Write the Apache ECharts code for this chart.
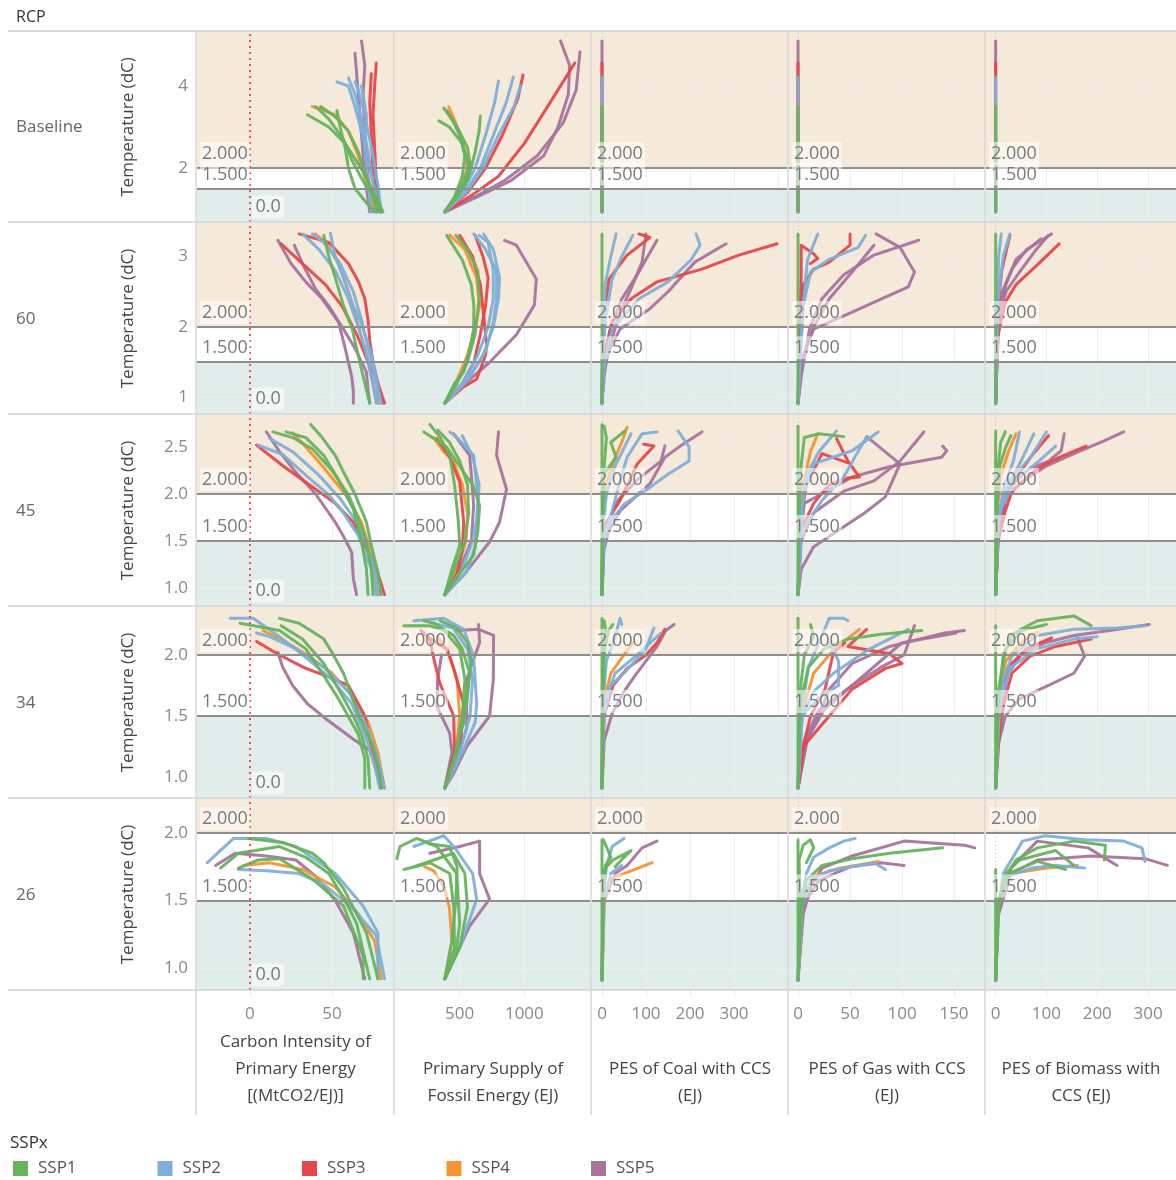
<!DOCTYPE html>
<html>
<head>
<meta charset="utf-8">
<script src="https://cdn.jsdelivr.net/npm/echarts@6/dist/echarts.min.js"></script>
<style>
  html, body { margin: 0; padding: 0; background: #ffffff; }
  #chart { width: 1176px; height: 1180px; }
</style>
</head>
<body>
<div id="chart"></div>
<script>
// ---- Facets ---------------------------------------------------------------
const rcpLabels = ['Baseline', '60', '45', '34', '26'];
const measureTitles = [
  'Carbon Intensity of\nPrimary Energy\n[(MtCO2/EJ)]',
  'Primary Supply of\nFossil Energy (EJ)',
  'PES of Coal with CCS\n(EJ)',
  'PES of Gas with CCS\n(EJ)',
  'PES of Biomass with\nCCS (EJ)'
];
const sspNames = ['SSP1', 'SSP2', 'SSP3', 'SSP4', 'SSP5'];

// ---- Tick labels -----------------------------------------------------------
const yTickValues = [[2, 4], [1, 2, 3], [1.0, 1.5, 2.0, 2.5], [1.0, 1.5, 2.0], [1.0, 1.5, 2.0]];
const yTickDecimals = [0, 0, 1, 1, 1];
const xTickValues = [[0, 50], [500, 1000], [0, 100, 200, 300], [0, 50, 100, 150], [0, 100, 200, 300]];
const xGridValues = [[50], [500, 1000], [100, 200, 300, 400], [50, 100, 150], [100, 200, 300]];

// ---- Reference values --------------------------------------------------------
const thresholdTemps = [2.0, 1.5];   // warming thresholds (dC)
const zeroIntensity = 0;             // zero carbon intensity

// ---- Trajectories: [SSP, [[measure, temperature], ...]] -----------------------
// RCP Baseline
const ciBaseline = [
  ['SSP1', [[80,0.93],[76,1.3],[72,1.7],[66,2.1],[58,2.6],[48,3.0],[35,3.3]]],
  ['SSP1', [[78,0.93],[74,1.4],[70,1.9],[66,2.4],[60,2.9],[52,3.25],[43,3.5]]],
  ['SSP1', [[76,0.93],[70,1.2],[64,1.5],[60,2.0],[58,2.5],[55,3.0],[53,3.4]]],
  ['SSP1', [[81,0.93],[77,1.3],[70,1.6],[62,2.2],[57,2.7],[48,3.2],[40,3.5]]],
  ['SSP4', [[77,0.93],[72,1.5],[66,2.3],[60,2.9],[52,3.3],[38,3.5]]],
  ['SSP2', [[79,0.93],[76,1.5],[72,2.2],[68,2.9],[64,3.5],[60,4.0],[53,4.1]]],
  ['SSP2', [[77,0.93],[75,1.6],[72,2.4],[68,3.2],[64,3.8],[60,4.2]]],
  ['SSP2', [[80,0.93],[78,1.6],[74,2.5],[70,3.3],[66,3.9],[64,4.1]]],
  ['SSP2', [[74,0.93],[72,1.6],[70,2.5],[71,3.3],[68,4.0]]],
  ['SSP3', [[79,0.93],[77,1.6],[76,2.5],[75,3.3],[76,4.0],[77,4.56]]],
  ['SSP3', [[77,0.93],[75,1.8],[74,2.8],[73,3.6],[74,4.3]]],
  ['SSP5', [[75,0.93],[72,1.8],[70,2.8],[69,3.8],[70,4.5],[68,5.1]]],
  ['SSP5', [[73,0.93],[70,1.8],[68,2.8],[66,3.8],[64,4.8]]]
];
const pfBaseline = [
  ['SSP1', [[385,0.93],[480,1.3],[560,1.7],[585,2.0],[560,2.5],[480,3.0],[377,3.46]]],
  ['SSP1', [[385,0.93],[470,1.3],[540,1.7],[570,2.1],[520,2.6],[420,3.0],[340,3.15]]],
  ['SSP1', [[385,0.93],[500,1.4],[580,1.9],[620,2.4],[650,2.9],[660,3.27]]],
  ['SSP1', [[385,0.93],[460,1.3],[520,1.8],[540,2.3],[500,2.8],[440,3.2],[400,3.4]]],
  ['SSP4', [[385,0.93],[470,1.3],[530,1.7],[560,2.0],[530,2.5],[470,3.1],[415,3.49]]],
  ['SSP2', [[385,0.93],[520,1.4],[620,2.0],[700,2.8],[770,3.6],[800,4.12]]],
  ['SSP2', [[385,0.93],[540,1.4],[660,2.0],[760,2.8],[860,3.6],[915,4.22]]],
  ['SSP2', [[385,0.93],[550,1.4],[680,2.0],[800,2.8],[920,3.5],[970,4.0]]],
  ['SSP3', [[385,0.93],[560,1.4],[700,2.0],[830,2.8],[950,3.7],[990,4.27]]],
  ['SSP3', [[385,0.93],[600,1.35],[800,1.8],[1000,2.6],[1200,3.6],[1390,4.56]]],
  ['SSP5', [[385,0.93],[620,1.3],[850,1.7],[1100,2.3],[1300,3.1],[1400,3.9],[1430,4.83]]],
  ['SSP5', [[385,0.93],[640,1.3],[900,1.7],[1150,2.3],[1260,3.0],[1340,3.8],[1350,4.5],[1280,5.1]]]
];
const coalBaseline = [
  ['SSP5', [[0,0.93],[0,3.0],[0,5.1]]],
  ['SSP3', [[0,0.93],[0,3.0],[0,4.56]]],
  ['SSP2', [[0,0.93],[0,3.0],[0,4.22]]],
  ['SSP4', [[0,0.93],[0,2.5],[0,3.49]]],
  ['SSP1', [[0,0.93],[0,2.5],[0,3.5]]]
];
const gasBaseline = [
  ['SSP5', [[0,0.93],[0,3.0],[0,5.1]]],
  ['SSP3', [[0,0.93],[0,3.0],[0,4.56]]],
  ['SSP2', [[0,0.93],[0,3.0],[0,4.22]]],
  ['SSP4', [[0,0.93],[0,2.5],[0,3.49]]],
  ['SSP1', [[0,0.93],[0,2.5],[0,3.5]]]
];
const bioBaseline = [
  ['SSP5', [[0,0.93],[0,3.0],[0,5.1]]],
  ['SSP3', [[0,0.93],[0,3.0],[0,4.56]]],
  ['SSP2', [[0,0.93],[0,3.0],[0,4.22]]],
  ['SSP4', [[0,0.93],[0,2.5],[0,3.49]]],
  ['SSP1', [[0,0.93],[0,2.5],[0,3.5]]]
];

// RCP 6.0
const ci60 = [
  ['SSP3', [[82,0.92],[78,1.2],[72,1.5],[65,1.9],[56,2.3],[46,2.6],[32,2.9],[19,3.18]]],
  ['SSP3', [[81,0.92],[78,1.2],[75,1.5],[73,1.8],[72,2.1],[70,2.4],[66,2.65],[60,2.9],[48,3.2],[30,3.32]]],
  ['SSP5', [[63,0.92],[63,1.1],[62,1.3],[58,1.7],[54,2.07],[44,2.4],[34,2.64],[25,2.9],[17,3.23]]],
  ['SSP5', [[73,0.92],[72,1.1],[71,1.36],[64,1.7],[57,1.97],[48,2.3],[40,2.54],[33,2.85],[27,3.16]]],
  ['SSP2', [[77,0.92],[74,1.3],[70,1.7],[66,2.0],[60,2.4],[52,2.8],[42,3.1],[32,3.32]]],
  ['SSP2', [[79,0.92],[76,1.3],[72,1.7],[68,2.1],[63,2.5],[55,2.9],[45,3.2],[38,3.32]]],
  ['SSP2', [[80,0.92],[76,1.4],[73,1.7],[67,2.1],[63,2.3],[57,2.7],[52,3.0],[49,3.33]]],
  ['SSP1', [[73,0.92],[68,1.4],[66,1.6],[62,2.0],[57,2.3],[52,2.7],[48,3.0],[45,3.3]]],
  ['SSP4', [[78,0.92],[74,1.3],[70,1.7],[65,2.1],[60,2.5],[54,2.9],[46,3.2],[40,3.32]]]
];
const pf60 = [
  ['SSP1', [[385,0.92],[460,1.2],[530,1.36],[580,1.7],[608,1.97],[610,2.3],[590,2.6],[520,2.95],[400,3.3]]],
  ['SSP1', [[385,0.92],[480,1.2],[560,1.5],[620,1.9],[650,2.4],[640,2.8],[560,3.1],[470,3.3]]],
  ['SSP4', [[385,0.92],[480,1.25],[560,1.6],[620,2.0],[654,2.3],[630,2.7],[540,3.1],[425,3.3]]],
  ['SSP3', [[385,0.92],[530,1.15],[631,1.26],[700,1.6],[708,1.74],[685,2.17],[660,2.6],[600,3.0],[500,3.3]]],
  ['SSP3', [[385,0.92],[520,1.2],[610,1.5],[660,1.9],[700,2.3],[720,2.7],[680,3.0],[620,3.3]]],
  ['SSP2', [[385,0.92],[540,1.2],[650,1.5],[708,1.7],[760,2.07],[785,2.4],[785,2.8],[700,3.1],[608,3.32]]],
  ['SSP2', [[385,0.92],[560,1.25],[680,1.6],[760,2.0],[800,2.4],[808,2.7],[760,3.1],[685,3.32]]],
  ['SSP2', [[385,0.92],[520,1.2],[640,1.6],[720,2.0],[760,2.4],[760,2.8],[720,3.2],[650,3.3]]],
  ['SSP5', [[385,0.92],[531,1.18],[731,1.5],[938,1.89],[1077,2.31],[1092,2.68],[938,3.16],[846,3.23]]]
];
const coal60 = [
  ['SSP1', [[0,0.92],[0,1.5],[0,2.0],[0,2.6],[0,3.32]]],
  ['SSP2', [[0,0.92],[1,1.5],[5,2.0],[7,2.6],[20,3.0],[32,3.32]]],
  ['SSP2', [[0,0.92],[2,1.6],[8,2.1],[23,2.68],[45,3.0],[70,3.3]]],
  ['SSP2', [[0,0.92],[3,1.3],[7,1.5],[23,1.97],[84,2.4],[150,2.64],[202,2.95],[223,3.16],[214,3.32]]],
  ['SSP3', [[0,0.92],[1,1.6],[5,2.2],[16,2.68],[57,3.02],[109,3.27],[84,3.32]]],
  ['SSP3', [[0,0.92],[1,1.3],[4,1.6],[23,2.07],[66,2.4],[125,2.64],[227,2.82],[311,3.02],[398,3.18]]],
  ['SSP5', [[0,0.92],[3,1.3],[16,1.69],[41,2.21],[66,2.54],[91,2.92],[100,3.32]]],
  ['SSP5', [[0,0.92],[5,1.5],[20,2.0],[45,2.4],[80,2.74],[125,3.23]]],
  ['SSP5', [[0,0.92],[5,1.3],[11,1.6],[41,1.97],[109,2.26],[150,2.5],[211,2.92],[282,3.18]]]
];
const gas60 = [
  ['SSP1', [[0,0.92],[0,2.0],[0,3.32]]],
  ['SSP2', [[0,0.92],[2,1.6],[5,2.3],[9,2.95],[19,3.32]]],
  ['SSP2', [[0,0.92],[2,1.5],[5,2.3],[12,2.78],[30,2.96],[58,3.13],[65,3.3]]],
  ['SSP3', [[0,0.92],[1,1.6],[5,2.6],[15,2.82],[30,2.92],[50,3.16],[50,3.32]]],
  ['SSP3', [[0,0.92],[2,2.2],[3,2.7],[3,3.16],[15,3.04],[19,2.97],[12,2.9]]],
  ['SSP5', [[0,0.92],[2,1.3],[5,1.6],[15,1.97],[52,2.21],[106,2.57],[112,2.78],[98,3.13],[75,3.32]]],
  ['SSP5', [[0,0.92],[3,1.3],[11,1.97],[23,2.4],[44,2.74],[73,3.02],[116,3.23]]],
  ['SSP5', [[0,0.92],[4,1.5],[14,1.97],[30,2.4],[52,2.78],[73,3.16]]]
];
const bio60 = [
  ['SSP1', [[0,0.92],[0,2.0],[0,3.32]]],
  ['SSP2', [[0,0.92],[1,1.6],[3,2.4],[6,3.0],[11,3.32]]],
  ['SSP2', [[0,0.92],[2,1.6],[5,2.4],[15,3.0],[28,3.32]]],
  ['SSP3', [[0,0.92],[2,1.6],[5,2.3],[12,2.8],[28,3.3]]],
  ['SSP3', [[0,0.92],[2,1.4],[5,1.9],[19,2.35],[40,2.6],[82,2.88],[125,3.18]]],
  ['SSP5', [[0,0.92],[2,1.5],[6,2.1],[13,2.5],[32,2.82],[61,3.1],[110,3.32]]],
  ['SSP5', [[0,0.92],[3,1.6],[8,2.2],[20,2.6],[40,2.96],[89,3.25]]],
  ['SSP5', [[0,0.92],[3,1.6],[8,2.2],[20,2.5],[47,2.78],[80,3.1],[104,3.3]]]
];

// RCP 4.5
const ci45 = [
  ['SSP3', [[82,0.93],[79,1.1],[73,1.35],[63,1.7],[52,1.9],[36,2.1],[20,2.3],[4,2.52]]],
  ['SSP5', [[65,0.93],[63,1.1],[62,1.38],[57,1.55],[52,1.7],[40,2.0],[28,2.23],[18,2.45],[10,2.66]]],
  ['SSP2', [[77,0.93],[74,1.2],[66,1.56],[57,1.8],[48,1.99],[34,2.2],[20,2.42],[5,2.52]]],
  ['SSP2', [[79,0.93],[76,1.2],[70,1.5],[65,1.7],[55,1.95],[42,2.2],[26,2.45],[12,2.59]]],
  ['SSP1', [[80,0.93],[78,1.17],[74,1.45],[71,1.7],[64,2.0],[58,2.2],[52,2.41],[44,2.6],[37,2.74]]],
  ['SSP1', [[75,0.93],[74,1.2],[71,1.49],[66,1.75],[60,1.99],[50,2.25],[38,2.48],[26,2.6],[14,2.66]]],
  ['SSP1', [[72,0.93],[71,1.2],[68,1.5],[63,1.84],[54,2.15],[45,2.41],[34,2.6],[22,2.66]]],
  ['SSP4', [[78,0.93],[75,1.3],[68,1.7],[58,2.0],[44,2.3],[34,2.5],[26,2.65]]]
];
const pf45 = [
  ['SSP1', [[385,0.93],[440,1.2],[500,1.45],[490,1.7],[477,1.88],[460,2.1],[423,2.41],[350,2.6],[269,2.74]]],
  ['SSP1', [[385,0.93],[500,1.15],[608,1.35],[640,1.6],[654,1.88],[600,2.1],[531,2.23],[400,2.5],[223,2.66]]],
  ['SSP1', [[385,0.93],[460,1.2],[540,1.5],[570,1.8],[560,2.1],[500,2.35],[420,2.55],[330,2.68]]],
  ['SSP4', [[385,0.93],[480,1.2],[550,1.5],[560,1.8],[520,2.1],[450,2.35],[377,2.45],[300,2.6]]],
  ['SSP3', [[385,0.93],[480,1.15],[520,1.4],[531,1.7],[500,2.13],[420,2.4],[323,2.59]]],
  ['SSP2', [[385,0.93],[554,1.17],[620,1.45],[631,1.7],[640,1.95],[608,2.41],[480,2.6],[423,2.66]]],
  ['SSP2', [[385,0.93],[520,1.2],[600,1.5],[640,1.8],[650,2.1],[600,2.4],[520,2.62]]],
  ['SSP5', [[385,0.93],[531,1.14],[731,1.49],[808,1.7],[862,2.05],[785,2.41],[800,2.66]]],
  ['SSP5', [[385,0.93],[500,1.2],[590,1.5],[608,1.88],[590,2.2],[577,2.41],[454,2.64]]]
];
const coal45 = [
  ['SSP1', [[0,0.93],[0,1.5],[0,2.0],[0,2.74]]],
  ['SSP1', [[0,0.93],[1,1.6],[3,2.2],[32,2.39],[20,2.55],[52,2.67]]],
  ['SSP1', [[0,0.93],[1,1.8],[5,2.3],[10,2.6],[5,2.72]]],
  ['SSP4', [[0,0.93],[2,1.7],[8,2.1],[30,2.39],[45,2.55],[57,2.71]]],
  ['SSP2', [[0,0.93],[3,1.5],[23,1.82],[41,2.14],[57,2.39],[91,2.64],[125,2.66]]],
  ['SSP2', [[0,0.93],[3,1.4],[9,1.65],[50,1.89],[109,2.07],[150,2.21],[198,2.35],[198,2.5],[173,2.67]]],
  ['SSP2', [[0,0.93],[2,1.6],[10,2.0],[30,2.3],[66,2.64]]],
  ['SSP3', [[0,0.93],[2,1.5],[10,1.7],[41,1.93],[80,2.32],[118,2.51],[95,2.53]]],
  ['SSP5', [[0,0.93],[4,1.4],[15,1.6],[41,1.82],[109,2.11],[143,2.39],[184,2.53],[227,2.66]]],
  ['SSP5', [[0,0.93],[5,1.5],[30,1.9],[80,2.15],[134,2.35],[143,2.51]]]
];
const gas45 = [
  ['SSP1', [[0,0.93],[0,1.6],[0,2.2],[0,2.72]]],
  ['SSP1', [[0,0.93],[1,1.8],[3,2.3],[6,2.6],[20,2.64],[44,2.61]]],
  ['SSP4', [[0,0.93],[2,1.7],[5,2.1],[12,2.45],[19,2.64]]],
  ['SSP3', [[0,0.93],[2,1.6],[15,1.9],[30,2.1],[48,2.17],[59,2.18],[48,2.35],[37,2.59]]],
  ['SSP3', [[0,0.93],[2,1.7],[8,2.1],[23,2.43],[48,2.33]]],
  ['SSP2', [[0,0.93],[2,1.5],[5,2.0],[15,2.32],[52,2.46],[77,2.66]]],
  ['SSP2', [[0,0.93],[3,1.6],[23,1.93],[44,2.18],[55,2.4],[66,2.61]]],
  ['SSP2', [[0,0.93],[2,1.7],[8,2.2],[20,2.45],[37,2.67]]],
  ['SSP5', [[0,0.93],[3,1.2],[15,1.44],[48,1.68],[63,1.79],[84,1.97],[98,2.32],[66,2.61]]],
  ['SSP5', [[0,0.93],[3,1.5],[15,1.8],[44,2.03],[73,2.14],[98,2.35],[121,2.66]]],
  ['SSP5', [[0,0.93],[3,1.6],[6,1.9],[52,2.18],[88,2.29],[138,2.39],[143,2.46],[139,2.51]]]
];
const bio45 = [
  ['SSP1', [[0,0.93],[0,1.6],[0,2.2],[0,2.67]]],
  ['SSP1', [[0,0.93],[2,1.9],[5,2.3],[10,2.55],[19,2.66]]],
  ['SSP1', [[0,0.93],[3,1.9],[8,2.3],[20,2.5],[30,2.62]]],
  ['SSP4', [[0,0.93],[3,1.8],[10,2.2],[25,2.45],[40,2.64]]],
  ['SSP2', [[0,0.93],[4,1.7],[15,2.05],[35,2.35],[47,2.66]]],
  ['SSP2', [[0,0.93],[5,1.7],[20,2.05],[50,2.35],[75,2.64]]],
  ['SSP2', [[0,0.93],[5,1.8],[30,2.15],[70,2.4],[100,2.66]]],
  ['SSP2', [[0,0.93],[6,1.8],[40,2.15],[85,2.35],[118,2.51]]],
  ['SSP3', [[0,0.93],[6,1.75],[30,2.1],[70,2.4],[104,2.62]]],
  ['SSP3', [[0,0.93],[5,1.5],[19,1.82],[32,2.03],[82,2.27],[125,2.39],[178,2.51]]],
  ['SSP5', [[0,0.93],[5,1.6],[19,1.93],[47,2.11],[97,2.29],[154,2.43],[211,2.56],[252,2.66]]],
  ['SSP5', [[0,0.93],[5,1.7],[25,2.05],[63,2.26],[104,2.35],[129,2.46],[135,2.64]]]
];

// RCP 3.4
const ci34 = [
  ['SSP2', [[79,0.91],[76,1.1],[70,1.35],[62,1.6],[50,1.8],[34,1.98],[18,2.15],[2,2.3],[-12,2.3]]],
  ['SSP2', [[82,0.91],[78,1.15],[70,1.45],[60,1.7],[45,1.9],[28,2.05],[12,2.15],[4,2.18]]],
  ['SSP3', [[80,0.91],[77,1.1],[73,1.3],[70,1.5],[60,1.75],[46,1.83],[34,1.89],[18,2.0],[4,2.11]]],
  ['SSP5', [[80,0.91],[76,1.1],[73,1.22],[63,1.31],[46,1.48],[35,1.6],[26,1.75],[20,1.9],[17,2.02]]],
  ['SSP1', [[80,0.91],[78,1.1],[75,1.25],[66,1.52],[57,1.85],[50,2.02],[45,2.13],[30,2.26],[18,2.3]]],
  ['SSP1', [[73,0.91],[72,1.15],[68,1.35],[63,1.5],[54,1.72],[45,1.93],[32,2.13],[19,2.24]]],
  ['SSP1', [[70,0.91],[70,1.15],[66,1.35],[54,1.64],[44,1.85],[34,2.05],[18,2.2],[-6,2.26]]],
  ['SSP4', [[82,0.91],[78,1.2],[72,1.45],[63,1.65],[50,1.85],[35,2.0],[20,2.12],[8,2.2]]]
];
const pf34 = [
  ['SSP1', [[385,0.91],[480,1.2],[500,1.35],[531,1.44],[560,1.65],[577,1.85],[520,2.05],[454,2.16],[300,2.26],[223,2.28]]],
  ['SSP1', [[385,0.91],[470,1.2],[520,1.5],[540,1.8],[500,2.05],[380,2.2],[269,2.24],[69,2.24]]],
  ['SSP1', [[385,0.91],[460,1.15],[510,1.4],[560,1.7],[590,1.95],[560,2.1],[480,2.22],[350,2.28]]],
  ['SSP2', [[385,0.91],[520,1.2],[620,1.45],[631,1.6],[608,1.99],[531,2.21],[377,2.3],[146,2.28]]],
  ['SSP2', [[385,0.91],[500,1.2],[580,1.5],[600,1.8],[560,2.05],[450,2.22],[300,2.26]]],
  ['SSP3', [[385,0.91],[460,1.2],[454,1.5],[346,1.77],[300,1.97],[269,2.13],[200,2.2]]],
  ['SSP3', [[385,0.91],[500,1.2],[531,1.6],[450,1.9],[400,2.05],[250,2.15]]],
  ['SSP5', [[385,0.91],[454,1.03],[554,1.25],[731,1.5],[760,1.8],[762,2.16],[646,2.21],[477,2.2]]],
  ['SSP5', [[385,0.91],[480,1.15],[554,1.4],[554,1.8],[620,2.0],[654,2.1],[646,2.25]]],
  ['SSP5', [[385,0.91],[440,1.2],[423,1.36],[323,1.58],[330,1.8],[360,2.0]]],
  ['SSP4', [[385,0.91],[470,1.2],[500,1.5],[480,1.8],[420,2.0],[330,2.15]]]
];
const coal34 = [
  ['SSP1', [[0,0.91],[0,1.5],[0,2.0],[0,2.3]]],
  ['SSP1', [[0,0.91],[1,1.6],[3,2.0],[8,2.2],[5,2.28]]],
  ['SSP1', [[0,0.91],[2,1.7],[6,2.05],[15,2.2],[25,2.25]]],
  ['SSP2', [[0,0.91],[2,1.6],[10,1.95],[30,2.15],[41,2.3],[45,2.25]]],
  ['SSP2', [[0,0.91],[4,1.5],[20,1.75],[50,1.85],[100,2.05],[118,2.22]]],
  ['SSP2', [[0,0.91],[4,1.6],[30,1.85],[80,2.0],[134,2.18]]],
  ['SSP3', [[0,0.91],[5,1.5],[25,1.75],[57,1.89],[100,2.0],[125,2.1],[143,2.21]]],
  ['SSP4', [[0,0.91],[3,1.6],[20,1.85],[50,2.0],[70,2.1]]],
  ['SSP5', [[0,0.91],[5,1.3],[23,1.52],[50,1.7],[75,1.83],[125,2.07],[145,2.2],[164,2.25]]]
];
const gas34 = [
  ['SSP1', [[0,0.91],[0,1.5],[0,2.0],[0,2.3]]],
  ['SSP1', [[0,0.91],[2,1.6],[10,1.9],[25,2.05],[48,2.13],[80,2.17],[119,2.2]]],
  ['SSP1', [[0,0.91],[2,1.7],[6,2.0],[15,2.15],[12,2.25]]],
  ['SSP4', [[0,0.91],[3,1.5],[15,1.85],[35,2.05],[59,2.21]]],
  ['SSP3', [[0,0.91],[5,1.25],[30,1.5],[52,1.72],[84,1.89],[100,1.93],[88,2.01],[48,2.07],[66,2.21]]],
  ['SSP3', [[0,0.91],[5,1.25],[12,1.5],[26,1.72],[34,2.02],[45,2.1]]],
  ['SSP2', [[0,0.91],[3,1.5],[10,1.9],[20,2.1],[30,2.3],[44,2.3],[48,2.28]]],
  ['SSP2', [[0,0.91],[4,1.5],[15,1.7],[34,1.85],[69,2.05],[106,2.21]]],
  ['SSP2', [[0,0.91],[4,1.5],[20,1.65],[39,1.75],[39,1.95],[30,2.1]]],
  ['SSP5', [[0,0.91],[9,1.31],[20,1.5],[30,1.72],[52,1.93],[88,2.07],[141,2.18],[160,2.2]]],
  ['SSP5', [[0,0.91],[6,1.3],[20,1.55],[52,1.75],[80,1.9],[102,2.0],[112,2.24]]],
  ['SSP5', [[0,0.91],[8,1.3],[25,1.55],[52,1.75],[100,2.1],[152,2.18]]]
];
const bio34 = [
  ['SSP1', [[0,0.91],[0,1.5],[0,2.0],[0,2.24]]],
  ['SSP1', [[0,0.91],[5,1.6],[15,2.0],[32,2.17],[82,2.28],[154,2.32],[188,2.24]]],
  ['SSP1', [[0,0.91],[5,1.7],[20,2.05],[50,2.2],[100,2.25]]],
  ['SSP2', [[0,0.91],[6,1.5],[15,1.8],[32,1.99],[82,2.16],[154,2.21],[239,2.22],[294,2.24]]],
  ['SSP2', [[0,0.91],[8,1.6],[30,1.9],[80,2.05],[154,2.13],[200,2.15]]],
  ['SSP3', [[0,0.91],[8,1.4],[19,1.65],[32,1.85],[68,1.99],[118,2.07],[188,2.13]]],
  ['SSP3', [[0,0.91],[6,1.6],[25,1.9],[60,2.05],[110,2.14]]],
  ['SSP4', [[0,0.91],[5,1.6],[20,1.95],[50,2.1],[82,2.19]]],
  ['SSP5', [[0,0.91],[6,1.5],[25,1.85],[50,2.0],[97,2.1],[154,2.16],[224,2.2],[302,2.25]]],
  ['SSP5', [[0,0.91],[4,1.25],[19,1.5],[47,1.64],[104,1.75],[154,1.85],[175,1.99],[161,2.14]]]
];

// RCP 2.6
const ci26 = [
  ['SSP2', [[78,0.92],[78,1.26],[69,1.46],[52,1.7],[28,1.9],[10,1.96],[2,1.96],[-10,1.96],[-26,1.78]]],
  ['SSP2', [[82,0.92],[77,1.24],[62,1.45],[45,1.62],[30,1.7],[10,1.72],[-7,1.73]]],
  ['SSP5', [[70,0.92],[63,1.26],[52,1.5],[40,1.68],[28,1.8],[10,1.83],[-9,1.85],[-21,1.76]]],
  ['SSP1', [[78,0.92],[71,1.26],[57,1.59],[45,1.78],[38,1.85],[20,1.93],[-1,1.96]]],
  ['SSP1', [[73,0.92],[65,1.33],[58,1.5],[48,1.7],[34,1.82],[18,1.9],[-7,1.85],[-18,1.74]]],
  ['SSP1', [[69,0.92],[69,1.09],[57,1.46],[38,1.66],[18,1.81],[5,1.8],[-7,1.74]]],
  ['SSP4', [[80,0.92],[76,1.2],[66,1.4],[52,1.6],[32,1.73],[12,1.78],[-4,1.76]]]
];
const pf26 = [
  ['SSP1', [[385,0.92],[470,1.1],[500,1.33],[477,1.7],[323,1.9],[169,1.96],[38,1.9],[15,1.81]]],
  ['SSP1', [[385,0.92],[460,1.15],[454,1.45],[423,1.7],[269,1.78],[69,1.73]]],
  ['SSP1', [[385,0.92],[500,1.15],[560,1.45],[540,1.7],[450,1.85],[300,1.8],[150,1.75]]],
  ['SSP1', [[385,0.92],[440,1.2],[470,1.5],[480,1.75],[420,1.9],[260,1.92]]],
  ['SSP2', [[385,0.92],[520,1.2],[631,1.51],[600,1.7],[454,1.9],[377,1.98],[146,1.9]]],
  ['SSP4', [[385,0.92],[440,1.2],[420,1.45],[380,1.6],[300,1.72],[230,1.75]]],
  ['SSP5', [[385,0.92],[577,1.31],[731,1.51],[654,1.7],[654,1.94],[500,1.9],[269,1.85]]]
];
const coal26 = [
  ['SSP1', [[0,0.91],[0,1.3],[0,1.6],[0,1.95]]],
  ['SSP1', [[0,0.91],[2,1.5],[5,1.73],[25,1.8],[66,1.87],[50,1.82],[30,1.75]]],
  ['SSP1', [[0,0.91],[2,1.5],[8,1.76],[20,1.82],[10,1.9],[3,1.95]]],
  ['SSP2', [[0,0.91],[3,1.5],[10,1.75],[23,1.9],[50,1.96]]],
  ['SSP2', [[0,0.91],[4,1.5],[20,1.7],[45,1.76],[35,1.73]]],
  ['SSP4', [[0,0.91],[5,1.5],[20,1.66],[75,1.73],[114,1.78]]],
  ['SSP5', [[0,0.91],[5,1.5],[30,1.7],[57,1.76],[91,1.89],[125,1.94]]]
];
const gas26 = [
  ['SSP1', [[0,0.91],[0,1.5],[0,1.95]]],
  ['SSP1', [[0,0.91],[2,1.5],[1,1.8],[5,1.91],[12,1.95],[15,1.89],[8,1.78]]],
  ['SSP1', [[0,0.91],[3,1.4],[8,1.65],[23,1.76],[52,1.81],[88,1.85],[139,1.89]]],
  ['SSP2', [[0,0.91],[3,1.5],[8,1.7],[15,1.82],[30,1.89],[44,1.94],[55,1.96]]],
  ['SSP2', [[0,0.91],[4,1.45],[12,1.65],[30,1.72],[52,1.75],[73,1.78],[84,1.73]]],
  ['SSP4', [[0,0.91],[4,1.5],[15,1.68],[40,1.74],[77,1.79]]],
  ['SSP5', [[0,0.91],[5,1.4],[12,1.6],[23,1.74],[52,1.83],[102,1.94],[160,1.91],[170,1.89]]],
  ['SSP5', [[0,0.91],[4,1.45],[20,1.65],[50,1.75],[80,1.78],[102,1.76]]]
];
const bio26 = [
  ['SSP1', [[0,0.91],[0,1.4],[0,1.73]]],
  ['SSP1', [[0,0.91],[4,1.4],[15,1.65],[40,1.8],[82,1.89],[154,1.94],[216,1.91],[214,1.8]]],
  ['SSP1', [[0,0.91],[5,1.45],[20,1.7],[47,1.8],[118,1.87],[154,1.76]]],
  ['SSP1', [[0,0.91],[5,1.5],[25,1.7],[82,1.79],[138,1.73]]],
  ['SSP2', [[0,0.91],[4,1.4],[15,1.7],[53,1.94],[97,1.98],[175,1.95],[252,1.94],[288,1.89],[294,1.79]]],
  ['SSP2', [[0,0.91],[5,1.45],[25,1.68],[70,1.74],[118,1.76],[175,1.74]]],
  ['SSP4', [[0,0.91],[5,1.5],[30,1.7],[100,1.74],[161,1.76]]],
  ['SSP5', [[0,0.91],[6,1.4],[30,1.7],[82,1.8],[188,1.83],[294,1.81],[338,1.76]]],
  ['SSP5', [[0,0.91],[5,1.5],[32,1.75],[82,1.94],[182,1.89],[239,1.76]]]
];

const panelData = [
  [ciBaseline, pfBaseline, coalBaseline, gasBaseline, bioBaseline],
  [ci60, pf60, coal60, gas60, bio60],
  [ci45, pf45, coal45, gas45, bio45],
  [ci34, pf34, coal34, gas34, bio34],
  [ci26, pf26, coal26, gas26, bio26]
];

// ---- Layout & style ----------------------------------------------------------
const FONT = '"Open Sans", "Noto Sans", sans-serif';
const sspColors = { SSP1: '#66b35c', SSP2: '#7dafd9', SSP3: '#e8464a', SSP4: '#f59331', SSP5: '#a8739d' };
const rowEdges = [31, 222, 414, 606, 798, 990];
const colEdges = [196, 394, 591, 788, 985, 1182];
const yRange = [[0.683, 5.317], [0.766, 3.475], [0.809, 2.840], [0.828, 2.393], [0.837, 2.252]];
const xRange = [[-32.3, 87.8], [0, 1515], [-22.7, 422.7], [-8.7, 179.8], [-19, 355]];
const BAND_HOT = '#f5e9d9';
const BAND_MID = '#ffffff';
const BAND_COOL = '#e0edeb';

const grids = [], xAxes = [], yAxes = [], series = [];

for (let r = 0; r < 5; r++) {
  for (let c = 0; c < 5; c++) {
    const idx = r * 5 + c;
    const isBottom = r === 4;
    const isLeft = c === 0;
    const nameLines = measureTitles[c].split('\n').length;

    grids.push({
      left: colEdges[c] + 1,
      top: rowEdges[r] + 1,
      width: colEdges[c + 1] - colEdges[c] - 1,
      height: rowEdges[r + 1] - rowEdges[r] - 1
    });

    xAxes.push({
      type: 'value', gridIndex: idx, min: xRange[c][0], max: xRange[c][1],
      axisLine: { show: false }, splitLine: { show: false },
      axisTick: { show: isBottom, customValues: xTickValues[c], length: 5, lineStyle: { color: '#e4e4e4' } },
      axisLabel: {
        show: isBottom, customValues: xTickValues[c], margin: 16,
        color: '#8a8a8a', fontSize: 17, fontFamily: FONT,
        formatter: v => String(Math.round(v))
      },
      name: isBottom ? measureTitles[c] : '',
      nameLocation: 'middle',
      nameGap: 1110 - 990 - nameLines * 27,
      nameTextStyle: { color: '#444', fontSize: 17, fontFamily: FONT, lineHeight: 27, verticalAlign: 'top' }
    });

    yAxes.push({
      type: 'value', gridIndex: idx, min: yRange[r][0], max: yRange[r][1],
      axisLine: { show: false }, splitLine: { show: false }, axisTick: { show: false },
      axisLabel: {
        show: isLeft, customValues: yTickValues[r], margin: 9,
        color: '#8a8a8a', fontSize: 17, fontFamily: FONT,
        formatter: v => v.toFixed(yTickDecimals[r])
      },
      name: isLeft ? 'Temperature (dC)' : '',
      nameLocation: 'middle', nameRotate: 90, nameGap: 60,
      nameTextStyle: { color: '#444', fontSize: 17, fontFamily: FONT }
    });

    // warming bands
    series.push({
      type: 'line', xAxisIndex: idx, yAxisIndex: idx, data: [], silent: true, z: 1,
      markArea: {
        silent: true, z: 1,
        data: [
          [{ yAxis: thresholdTemps[0], itemStyle: { color: BAND_HOT, opacity: 1 } }, { yAxis: yRange[r][1] }],
          [{ yAxis: thresholdTemps[1], itemStyle: { color: BAND_MID, opacity: 1 } }, { yAxis: thresholdTemps[0] }],
          [{ yAxis: yRange[r][0], itemStyle: { color: BAND_COOL, opacity: 1 } }, { yAxis: thresholdTemps[1] }]
        ]
      }
    });

    // faint grid lines and zero lines, beneath the trajectories
    const gridMarks = [];
    yTickValues[r].forEach(v => gridMarks.push({ yAxis: v }));
    xGridValues[c].forEach(v => gridMarks.push({ xAxis: v }));
    if (c >= 2) {
      gridMarks.push({ xAxis: 0, lineStyle: { color: '#bdbdbd', width: 1, type: [1, 3] } });
    }
    series.push({
      type: 'line', xAxisIndex: idx, yAxisIndex: idx, data: [], silent: true, z: 2,
      markLine: {
        silent: true, z: 2, symbol: ['none', 'none'], animation: false,
        label: { show: false },
        lineStyle: { color: '#eeeeee', width: 1, type: 'solid' },
        data: gridMarks
      }
    });

    // trajectories, drawn SSP5 first so SSP1 sits on top
    const trajectories = panelData[r][c].slice().sort((a, b) => b[0].localeCompare(a[0]));
    trajectories.forEach(([ssp, pts]) => {
      series.push({
        type: 'line', name: ssp, xAxisIndex: idx, yAxisIndex: idx, z: 3,
        data: pts, showSymbol: false, symbol: 'none', smooth: false, silent: true,
        itemStyle: { color: sspColors[ssp] },
        lineStyle: { color: sspColors[ssp], width: 3, cap: 'round', join: 'round', opacity: 0.95 }
      });
    });

    // threshold reference lines with their value labels
    const refLabel = {
      show: true, position: 'insideStartTop', distance: 3,
      formatter: p => Number(p.value).toFixed(3),
      color: '#7a7a7a', fontSize: 18, fontFamily: FONT,
      backgroundColor: 'rgba(255,255,255,0.55)', padding: [3, 2, 2, 2]
    };
    const refMarks = thresholdTemps.map(t => ({ yAxis: t }));
    const refSeries = {
      type: 'line', xAxisIndex: idx, yAxisIndex: idx, data: [], silent: true, z: 5,
      markLine: {
        silent: true, z: 5, symbol: ['none', 'none'], animation: false,
        lineStyle: { color: '#8e8e8e', width: 2, type: 'solid' },
        label: refLabel,
        data: refMarks
      }
    };
    if (isLeft) {
      refSeries.markLine.data.push({
        xAxis: zeroIntensity,
        lineStyle: { color: '#e0585a', width: 2, type: [2, 4] },
        label: { show: false }
      });
      refSeries.markPoint = {
        silent: true, z: 6, symbol: 'circle', symbolSize: 1, animation: false,
        itemStyle: { color: 'rgba(0,0,0,0)' },
        label: {
          show: true, position: 'right', distance: 2, offset: [0, -15],
          formatter: () => zeroIntensity.toFixed(1),
          color: '#7a7a7a', fontSize: 18, fontFamily: FONT,
          backgroundColor: 'rgba(255,255,255,0.55)', padding: [3, 3, 2, 3]
        },
        data: [{ coord: [zeroIntensity, yRange[r][0]] }]
      };
    }
    series.push(refSeries);
  }
}

// facet headers, dividers and legend title
const graphics = [];
graphics.push({ type: 'text', x: 16, y: 17, style: { text: 'RCP', fill: '#333', font: '16px ' + FONT, verticalAlign: 'middle' } });
rcpLabels.forEach((lab, r) => {
  graphics.push({
    type: 'text', x: 16, y: (rowEdges[r] + rowEdges[r + 1]) / 2 + 1,
    style: { text: lab, fill: '#666', font: '17px ' + FONT, verticalAlign: 'middle' }
  });
});
graphics.push({ type: 'text', x: 10, y: 1143, style: { text: 'SSPx', fill: '#333', font: '17px ' + FONT, verticalAlign: 'middle' } });
rowEdges.forEach((y, i) => {
  graphics.push({
    type: 'line', z: 100, silent: true,
    shape: { x1: 8, y1: y, x2: 1176, y2: y },
    style: { stroke: i === 0 ? '#d9d9d9' : '#d2d2d2', lineWidth: i === 0 ? 2 : 1.5 }
  });
});
colEdges.slice(0, 5).forEach(x => {
  graphics.push({
    type: 'line', z: 100, silent: true,
    shape: { x1: x, y1: 31, x2: x, y2: 1115 },
    style: { stroke: '#d6d6d6', lineWidth: 1.5 }
  });
});

const legends = sspNames.map((n, i) => ({
  data: [n], left: 13 + i * 144.5, top: 1160, icon: 'rect',
  itemWidth: 15, itemHeight: 15, itemGap: 0, selectedMode: false, padding: 0,
  textStyle: { color: '#555', fontSize: 17, fontFamily: FONT, padding: [0, 0, 0, 5] }
}));

const chart = echarts.init(document.getElementById('chart'), null, { renderer: 'canvas', width: 1176, height: 1180 });
chart.setOption({
  animation: false,
  backgroundColor: '#ffffff',
  textStyle: { fontFamily: FONT },
  grid: grids,
  xAxis: xAxes,
  yAxis: yAxes,
  legend: legends,
  graphic: graphics,
  series: series
});
</script>
</body>
</html>
